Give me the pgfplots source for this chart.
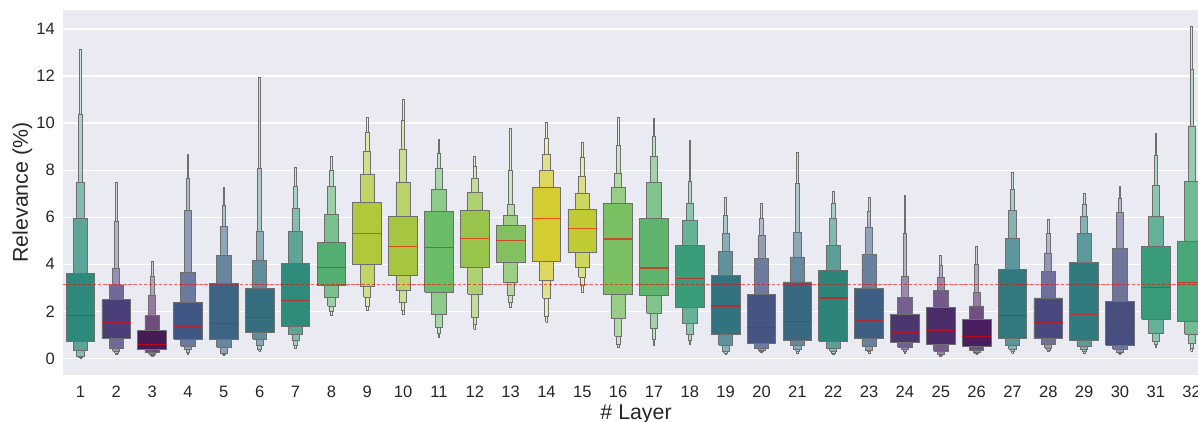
\documentclass[border=0pt]{standalone}
\usepackage{pgfplots}
\usepackage{pgfplotstable}
\pgfplotsset{compat=1.18}
\usepackage{fontspec}
\setmainfont{Liberation Sans}

\definecolor{bgc}{HTML}{EAEAF2}
\definecolor{edgec}{HTML}{6E6E6E}
\definecolor{txtc}{HTML}{262626}
% base colour of each layer (innermost box)
\definecolor{lc1}{HTML}{2E8A7B}
\definecolor{lc2}{HTML}{4B3F7A}
\definecolor{lc3}{HTML}{461B56}
\definecolor{lc4}{HTML}{405684}
\definecolor{lc5}{HTML}{3E6483}
\definecolor{lc6}{HTML}{366E80}
\definecolor{lc7}{HTML}{2F8C7A}
\definecolor{lc8}{HTML}{53AE6F}
\definecolor{lc9}{HTML}{B2C83B}
\definecolor{lc10}{HTML}{A6C540}
\definecolor{lc11}{HTML}{6BBC69}
\definecolor{lc12}{HTML}{99C44B}
\definecolor{lc13}{HTML}{82C062}
\definecolor{lc14}{HTML}{D3CC32}
\definecolor{lc15}{HTML}{C0CA33}
\definecolor{lc16}{HTML}{7BBF63}
\definecolor{lc17}{HTML}{5EB36D}
\definecolor{lc18}{HTML}{3A9C79}
\definecolor{lc19}{HTML}{33737F}
\definecolor{lc20}{HTML}{465484}
\definecolor{lc21}{HTML}{3A6882}
\definecolor{lc22}{HTML}{2D8479}
\definecolor{lc23}{HTML}{3F5E84}
\definecolor{lc24}{HTML}{4C3670}
\definecolor{lc25}{HTML}{4A2C69}
\definecolor{lc26}{HTML}{491D5E}
\definecolor{lc27}{HTML}{307A7F}
\definecolor{lc28}{HTML}{48497E}
\definecolor{lc29}{HTML}{2F7B7E}
\definecolor{lc30}{HTML}{484E7F}
\definecolor{lc31}{HTML}{3A9B7A}
\definecolor{lc32}{HTML}{48A776}

% letter values per layer: median, quartiles, then eighths, sixteenths, ...
\pgfplotstableread{
x  med  qa   qb   la   ua   lb   ub   lc   uc    ld   ud
1  1.81 0.72 3.62 0.34 5.95 0.08 7.50 0.03 10.37 0.01 13.11
2  1.54 0.83 2.49 0.44 3.12 0.30 3.83 0.23 5.82  0.18 7.50
3  0.58 0.37 1.19 0.25 1.81 0.18 2.68 0.11 3.50  0.07 4.14
4  1.37 0.82 2.39 0.51 3.64 0.37 6.29 0.27 7.67  0.18 8.66
5  1.48 0.79 3.19 0.47 4.36 0.23 5.59 0.16 6.50  0.13 7.26
6  1.74 1.12 2.98 0.82 4.18 0.56 5.40 0.37 8.09  0.30 11.96
7  2.46 1.38 4.04 1.02 5.40 0.76 6.36 0.54 7.30  0.41 8.11
8  3.88 3.12 4.93 2.60 6.12 2.23 7.29 1.99 7.97  1.82 8.57
9  5.30 3.98 6.61 3.06 7.81 2.60 8.79 2.20 9.62  2.02 10.25
10 4.75 3.52 6.02 2.90 7.50 2.37 8.87 2.02 10.10 1.85 11.02
11 4.72 2.81 6.23 1.86 7.19 1.33 8.07 1.07 8.70  0.90 9.31
12 5.10 3.87 6.29 2.73 7.06 1.75 7.67 1.43 8.15  1.24 8.57
13 5.00 4.07 5.64 3.22 6.07 2.68 6.54 2.37 7.97  2.16 9.76
14 5.93 4.12 7.26 3.32 8.01 2.56 8.66 1.78 9.34  1.53 10.01
15 5.51 4.51 6.34 3.87 7.01 3.45 7.74 3.09 8.53  2.80 9.18
16 5.07 2.71 6.58 1.71 7.26 0.95 7.88 0.61 9.05  0.48 10.25
17 3.84 2.67 5.95 1.92 7.47 1.29 8.57 0.82 9.45  0.54 10.18
18 3.40 2.16 4.80 1.47 5.86 1.03 6.58 0.76 7.53  0.58 9.25
19 2.23 1.02 3.52 0.56 4.56 0.30 5.31 0.23 6.09  0.18 6.84
20 1.33 0.62 2.71 0.44 4.25 0.34 5.23 0.28 5.93  0.25 6.58
21 1.58 0.76 3.25 0.54 4.31 0.37 5.35 0.30 7.43  0.23 8.74
22 2.57 0.73 3.73 0.41 4.80 0.30 5.93 0.23 6.58  0.18 7.09
23 1.62 0.83 2.97 0.52 4.42 0.35 5.56 0.28 6.26  0.23 6.84
24 1.10 0.66 1.85 0.48 2.58 0.37 3.49 0.30 5.31  0.23 6.92
25 1.20 0.58 2.15 0.30 2.87 0.18 3.46 0.11 3.94  0.08 4.38
26 0.92 0.49 1.67 0.34 2.23 0.25 2.82 0.20 4.00  0.17 4.77
27 1.84 0.86 3.79 0.56 5.08 0.40 6.29 0.30 7.18  0.23 7.90
28 1.55 0.83 2.57 0.58 3.69 0.44 4.48 0.34 5.31  0.28 5.90
29 1.88 0.76 4.08 0.52 5.31 0.37 6.03 0.28 6.54  0.23 7.01
30 1.13 0.56 2.42 0.40 4.68 0.27 6.19 0.23 6.82  0.18 7.32
31 3.02 1.67 4.75 1.05 6.05 0.72 7.34 0.58 8.62  0.48 9.55
32 3.23 1.58 4.99 1.03 7.51 0.62 9.87 0.44 12.29 0.30 14.10
}\lvdata

\pgfplotsset{
  lvbox/.style={draw=edgec, line width=0.6pt},
  medline/.style={draw=red, draw opacity=0.6, line width=0.9pt},
}

\newcommand\fetch[3]{\pgfplotstablegetelem{#1}{#2}\of\lvdata\let#3\pgfplotsretval}
% one level: centre, half width, low, high, fill
\newcommand\lvrect[5]{%
  \pgfmathsetmacro\xa{#1-#2}%
  \pgfmathsetmacro\xb{#1+#2}%
  \edef\doit{\noexpand\addplot[lvbox, fill=#5] coordinates
    {(\xa,#3) (\xb,#3) (\xb,#4) (\xa,#4) (\xa,#3)};}%
  \doit}

\begin{document}
\begin{tikzpicture}
\begin{axis}[
  name=ax,
  scale only axis,
  width=860.3pt, height=273.75pt,
  xmin=0.5, xmax=32.5, ymin=-0.705, ymax=14.805,
  axis background/.style={fill=bgc},
  axis line style={draw=none},
  xtick={1,...,32}, ytick={0,2,...,14},
  major tick length=0pt,
  ymajorgrids, grid style={white, line width=0.9pt},
  /pgf/number format/assume math mode=true,
  tick label style={font=\fontsize{12.4}{14}\selectfont, text=txtc},
  xticklabel style={anchor=base, yshift=-17pt},
  yticklabel style={xshift=-2.25pt},
  xlabel={\# Layer}, ylabel={Relevance (\%)},
  every axis x label/.style={at={(axis description cs:0.5,0)}, anchor=base, yshift=-33.4pt,
    font=\fontsize{16}{19}\selectfont, text=txtc},
  every axis y label/.style={at={(axis description cs:-0.0303,0.5)}, anchor=base, rotate=90,
    font=\fontsize{16}{19}\selectfont, text=txtc},
]
\pgfplotsinvokeforeach{0,...,31}{%
  \fetch{#1}{x}\vx \fetch{#1}{med}\vmed
  \fetch{#1}{qa}\vqa \fetch{#1}{qb}\vqb
  \fetch{#1}{la}\vla \fetch{#1}{ua}\vua
  \fetch{#1}{lb}\vlb \fetch{#1}{ub}\vub
  \fetch{#1}{lc}\vlc \fetch{#1}{uc}\vuc
  \fetch{#1}{ld}\vld \fetch{#1}{ud}\vud
  \lvrect{\vx}{0.025}{\vld}{\vud}{lc\vx!22!white}
  \lvrect{\vx}{0.05}{\vlc}{\vuc}{lc\vx!40!white}
  \lvrect{\vx}{0.1}{\vlb}{\vub}{lc\vx!58!white}
  \lvrect{\vx}{0.2}{\vla}{\vua}{lc\vx!78!white}
  \lvrect{\vx}{0.4}{\vqa}{\vqb}{lc\vx}
  \pgfmathsetmacro\xa{\vx-0.4}%
  \pgfmathsetmacro\xb{\vx+0.4}%
  \edef\doit{\noexpand\addplot[medline] coordinates {(\xa,\vmed) (\xb,\vmed)};}%
  \doit
}
\addplot[draw=red, draw opacity=0.6, line width=0.8pt, dash pattern=on 2.6pt off 1.2pt]
  coordinates {(0.5,3.125) (32.5,3.125)};
\end{axis}
\pgfresetboundingbox
\path[use as bounding box] ([xshift=-46.9pt,yshift=-34.5pt]ax.south west) rectangle ++(898.5pt,315.75pt);
\end{tikzpicture}
\end{document}
